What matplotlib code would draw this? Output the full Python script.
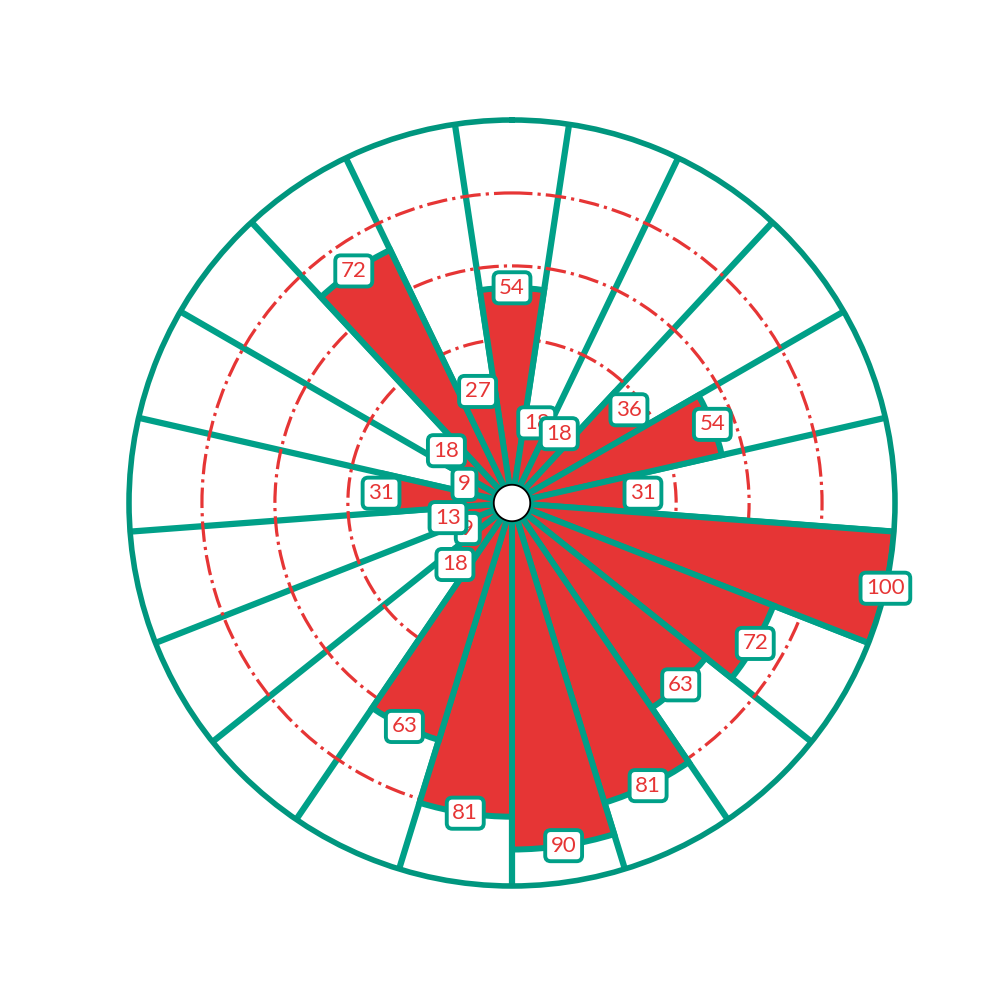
import numpy as np
import matplotlib
matplotlib.use('Agg')
import matplotlib.pyplot as plt

# values clockwise from the top
values = [54, 18, 18, 36, 54, 31, 100, 72, 63, 81, 90, 81, 63, 18, 9, 13, 31, 9, 18, 72, 27]
grid_levels = [40, 60, 80]

RED = '#e63535'
TEAL = '#00a088'
TEAL_DARK = '#00967e'

n = len(values)
width = 2 * np.pi / n
theta = np.arange(n) * width

fig = plt.figure(figsize=(10, 10), dpi=100)
ax = fig.add_axes([0.129, 0.114, 0.766, 0.766], projection='polar')
ax.set_theta_zero_location('N')
ax.set_theta_direction(-1)

ax.bar(theta, values, width=width, bottom=0, color=RED,
       edgecolor=TEAL, linewidth=4.3, zorder=2)

ax.set_ylim(-5, 100)
ax.set_yticks(grid_levels)
ax.set_yticklabels([])
ax.set_xticks(theta + width / 2)
ax.set_xticklabels([])
ax.xaxis.grid(True, color=TEAL, linewidth=4.5, linestyle='-', zorder=1)
ax.yaxis.grid(True, color=RED, linewidth=2.3, linestyle='-.', zorder=3)
ax.tick_params(length=0, width=0)
ax.spines['polar'].set_color(TEAL_DARK)
ax.spines['polar'].set_linewidth(4)

# white hub in the centre
circ = np.linspace(0, 2 * np.pi, 200)
ax.fill(circ, np.zeros_like(circ), facecolor='white', edgecolor='black',
        linewidth=1.3, zorder=5)

for t, v in zip(theta, values):
    ax.text(t, v, str(v), ha='center', va='center', color=RED, fontsize=16,
            family=['Lato', 'DejaVu Sans'], zorder=6,
            bbox=dict(boxstyle='round,pad=0.25', facecolor='white',
                      edgecolor=TEAL, linewidth=2.8))

fig.savefig('out.png', dpi=100)
